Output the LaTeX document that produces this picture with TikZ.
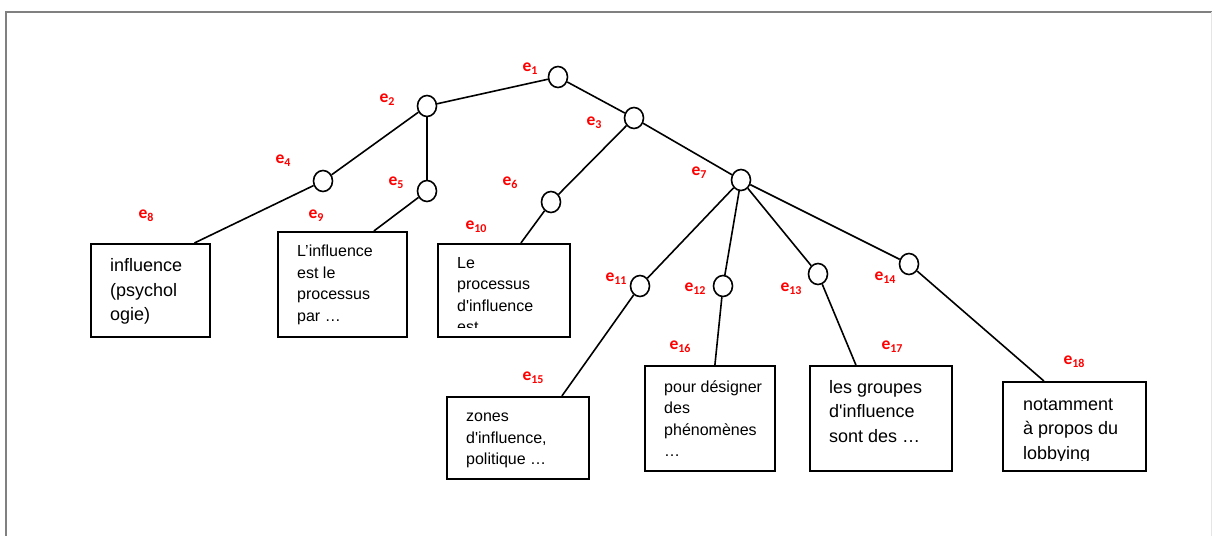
\documentclass[tikz,border=0pt]{standalone}
\usepackage{fontspec}
\newfontfamily\boxfont{Liberation Sans}
\newfontfamily\labelfont{Carlito}
\usetikzlibrary{shapes.geometric,calc}

% edge label: bold red "e" with a lowered index
\newcommand\esub[1]{e\raisebox{-3.6pt}{\fontsize{12}{12}\selectfont #1}}

\tikzset{
  vertex/.style={draw, ellipse, minimum width=19pt, minimum height=21pt,
                 inner sep=0pt, line width=1.6pt},
  leafbox/.style={draw, rectangle, line width=1.8pt, inner sep=0pt,
                  anchor=north west},
  edge/.style={line width=1.6pt},
  elabel/.style={text=red, font=\labelfont\bfseries\fontsize{17.5}{17.5}\selectfont,
                 anchor=base, inner sep=0pt},
  % multi-line texts are placed by the baseline of their last line
  bigtext/.style={font=\boxfont\fontsize{18}{24.5}\selectfont, align=left,
                  anchor=base west, inner sep=0pt},
  smalltext/.style={font=\boxfont\fontsize{16}{21.5}\selectfont, align=left,
                    anchor=base west, inner sep=0pt},
}

\begin{document}
\begin{tikzpicture}[x=1pt, y=-1pt]
\useasboundingbox (0,0) rectangle (1212,536);

% page frame
\draw[line width=2pt, color=black!50] (6,536) -- (6,12) -- (1212,12);
\draw[line width=0.8pt, color=black!10] (1211.5,12) -- (1211.5,536);

% tree vertices
\node[vertex] (n1)  at (558,77)  {};
\node[vertex] (n2)  at (427,106) {};
\node[vertex] (n3)  at (634,118) {};
\node[vertex] (n4)  at (323,181) {};
\node[vertex] (n5)  at (427,191) {};
\node[vertex] (n6)  at (551,202) {};
\node[vertex] (n7)  at (741,180) {};
\node[vertex] (n11) at (640,286) {};
\node[vertex] (n12) at (723,286) {};
\node[vertex] (n13) at (818,274) {};
\node[vertex] (n14) at (909,264) {};

% leaf boxes
\node[leafbox, minimum width=119pt, minimum height=93pt]  (b8)  at (90,243)   {};
\node[leafbox, minimum width=129pt, minimum height=105pt] (b9)  at (277,231)  {};
\node[leafbox, minimum width=132pt, minimum height=93pt]  (b10) at (437,243)  {};
\node[leafbox, minimum width=142pt, minimum height=82pt]  (b15) at (446,396)  {};
\node[leafbox, minimum width=130pt, minimum height=105pt] (b16) at (644,365)  {};
\node[leafbox, minimum width=142pt, minimum height=105pt] (b17) at (809,365)  {};
\node[leafbox, minimum width=143pt, minimum height=89pt]  (b18) at (1002,381) {};

% box texts
\node[bigtext]   (t8)  at ($(b8.north west)+(20,77.5)$)  {influence\\(psychol\\ogie)};
\node[smalltext] (t9)  at ($(b9.north west)+(20,90.2)$)  {L’influence\\est le\\processus\\par …};
\begin{scope}
  \clip (b10.north west) rectangle ([yshift=10pt]b10.south east);
  \node[smalltext] (t10) at ($(b10.north west)+(20,89.5)$) {Le\\processus\\d'influence\\est};
\end{scope}
\node[smalltext] (t15) at ($(b15.north west)+(20,68.7)$) {zones\\d'influence,\\politique …};
\node[smalltext] (t16) at ($(b16.north west)+(20,91.5)$) {pour désigner\\des\\phénomènes\\…};
\node[bigtext]   (t17) at ($(b17.north west)+(20,77.3)$) {les groupes\\d'influence\\sont des …};
\begin{scope}
  \clip (b18.north west) rectangle ([yshift=11pt]b18.south east);
  \node[bigtext] (t18) at ($(b18.north west)+(21,78)$)   {notamment\\à propos du\\lobbying};
\end{scope}

% connectors
\draw[edge] (n1) -- (n2);
\draw[edge] (n1) -- (n3);
\draw[edge] (n2) -- (n4);
\draw[edge] (n2) -- (n5);
\draw[edge] (n3) -- (n6);
\draw[edge] (n3) -- (n7);
\draw[edge] (n4) -- ([xshift=44pt]b8.north);
\draw[edge] (n5) -- ([xshift=31.5pt]b9.north);
\draw[edge] (n6) -- ([xshift=17pt]b10.north);
\draw[edge] (n7) -- (n11);
\draw[edge] (n7) -- (n12);
\draw[edge] (n7) -- (n13);
\draw[edge] (n7) -- (n14);
\draw[edge] (n11) -- ([xshift=44pt]b15.north);
\draw[edge] (n12) -- ([xshift=5pt]b16.north);
\draw[edge] (n13) -- ([xshift=-25pt]b17.north);
\draw[edge] (n14) -- ([xshift=-30.5pt]b18.north);

% edge labels
\node[elabel] (l1)  at (530,71)   {\esub{1}};
\node[elabel] (l2)  at (387,102)  {\esub{2}};
\node[elabel] (l3)  at (594,125)  {\esub{3}};
\node[elabel] (l4)  at (283,163)  {\esub{4}};
\node[elabel] (l5)  at (396,185)  {\esub{5}};
\node[elabel] (l6)  at (510,185)  {\esub{6}};
\node[elabel] (l7)  at (699,175)  {\esub{7}};
\node[elabel] (l8)  at (146,218)  {\esub{8}};
\node[elabel] (l9)  at (316,218)  {\esub{9}};
\node[elabel] (l10) at (476,229)  {\esub{10}};
\node[elabel] (l11) at (616,281)  {\esub{11}};
\node[elabel] (l12) at (695,291)  {\esub{12}};
\node[elabel] (l13) at (791,291)  {\esub{13}};
\node[elabel] (l14) at (885,280)  {\esub{14}};
\node[elabel] (l15) at (533,380)  {\esub{15}};
\node[elabel] (l16) at (680,349)  {\esub{16}};
\node[elabel] (l17) at (892,349)  {\esub{17}};
\node[elabel] (l18) at (1074,364) {\esub{18}};
\end{tikzpicture}
\end{document}
